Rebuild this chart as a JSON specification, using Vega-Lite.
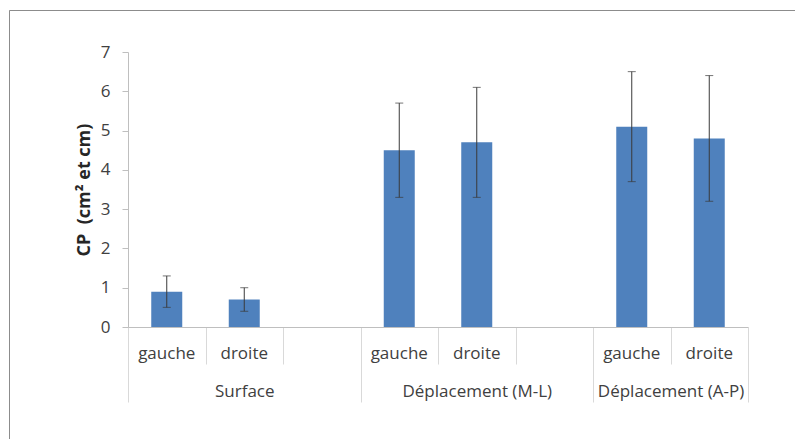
{
  "$schema": "https://vega.github.io/schema/vega-lite/v6.json",
  "autosize": "none",
  "width": 786,
  "height": 429,
  "padding": {"left": 9, "top": 10, "right": 0, "bottom": 0},
  "background": "white",
  "config": {
    "font": "Open Sans",
    "view": {"stroke": "#8c8c8c", "strokeWidth": 1, "strokeDash": [786, 1215, 429]},
    "axis": {"grid": false, "labelFont": "Open Sans", "labelFontSize": 17, "labelColor": "#404040"}
  },
  "data": {
    "values": [
      {"slot": "Surface|gauche", "group": "Surface", "side": "gauche", "value": 0.9, "lo": 0.5, "hi": 1.3},
      {"slot": "Surface|droite", "group": "Surface", "side": "droite", "value": 0.7, "lo": 0.4, "hi": 1.0},
      {"slot": "Déplacement (M-L)|gauche", "group": "Déplacement (M-L)", "side": "gauche", "value": 4.5, "lo": 3.3, "hi": 5.7},
      {"slot": "Déplacement (M-L)|droite", "group": "Déplacement (M-L)", "side": "droite", "value": 4.7, "lo": 3.3, "hi": 6.1},
      {"slot": "Déplacement (A-P)|gauche", "group": "Déplacement (A-P)", "side": "gauche", "value": 5.1, "lo": 3.7, "hi": 6.5},
      {"slot": "Déplacement (A-P)|droite", "group": "Déplacement (A-P)", "side": "droite", "value": 4.8, "lo": 3.2, "hi": 6.4}
    ]
  },
  "resolve": {"axis": {"x": "independent", "y": "independent"}},
  "layer": [
    {
      "mark": {"type": "bar", "color": "#4f81bd", "width": {"band": 0.4}},
      "encoding": {
        "x": {
          "field": "slot",
          "type": "nominal",
          "sort": null,
          "scale": {
            "domain": ["Surface|gauche", "Surface|droite", "Surface|", "Déplacement (M-L)|gauche", "Déplacement (M-L)|droite", "Déplacement (M-L)|", "Déplacement (A-P)|gauche", "Déplacement (A-P)|droite"],
            "range": [119, 739],
            "paddingInner": 0,
            "paddingOuter": 0
          },
          "axis": {
            "orient": "bottom",
            "title": null,
            "offset": -112,
            "domain": true,
            "domainColor": "#bfbfbf",
            "ticks": true,
            "tickBand": "extent",
            "tickColor": "#d9d9d9",
            "tickSize": {
              "condition": {
                "test": "datum.extra || indexof(['Surface|gauche','Surface|droite','Déplacement (M-L)|gauche','Déplacement (M-L)|droite','Déplacement (A-P)|gauche'], datum.value) < 0",
                "value": 75
              },
              "value": 37
            },
            "labelExpr": "datum.value == 'Surface|droite' ? 'Surface' : datum.value == 'Déplacement (M-L)|droite' ? 'Déplacement (M-L)' : datum.value == 'Déplacement (A-P)|gauche' ? 'Déplacement (A-P)' : ''",
            "labelOffset": {
              "condition": {"test": "datum.value == 'Déplacement (A-P)|gauche'", "value": 38.75},
              "value": 0
            },
            "labelPadding": 19,
            "labelAngle": 0,
            "labelOverlap": false,
            "labelLimit": 300
          }
        },
        "y": {
          "field": "value",
          "type": "quantitative",
          "scale": {"domain": [0, 7], "range": [317, 42], "nice": false, "zero": true},
          "axis": {
            "orient": "left",
            "title": "CP\u00a0 (cm² et cm)",
            "titleFont": "Open Sans",
            "titleFontSize": 18,
            "titleFontWeight": "bold",
            "titleColor": "#262626",
            "titlePadding": 7,
            "offset": -119,
            "values": [0, 1, 2, 3, 4, 5, 6, 7],
            "domainColor": "#bfbfbf",
            "tickColor": "#bfbfbf",
            "tickSize": 6,
            "labelPadding": 12
          }
        }
      }
    },
    {
      "mark": {"type": "errorbar", "ticks": {"size": 8}, "color": "#3a3a3a", "thickness": 1},
      "encoding": {
        "x": {
          "field": "slot",
          "type": "nominal",
          "sort": null,
          "axis": {
            "orient": "bottom",
            "title": null,
            "offset": -112,
            "domain": false,
            "ticks": false,
            "labelExpr": "split(datum.value, '|')[1]",
            "labelPadding": 18,
            "labelAngle": 0,
            "labelOverlap": false
          }
        },
        "y": {"field": "lo", "type": "quantitative", "axis": null},
        "y2": {"field": "hi"}
      }
    }
  ]
}
